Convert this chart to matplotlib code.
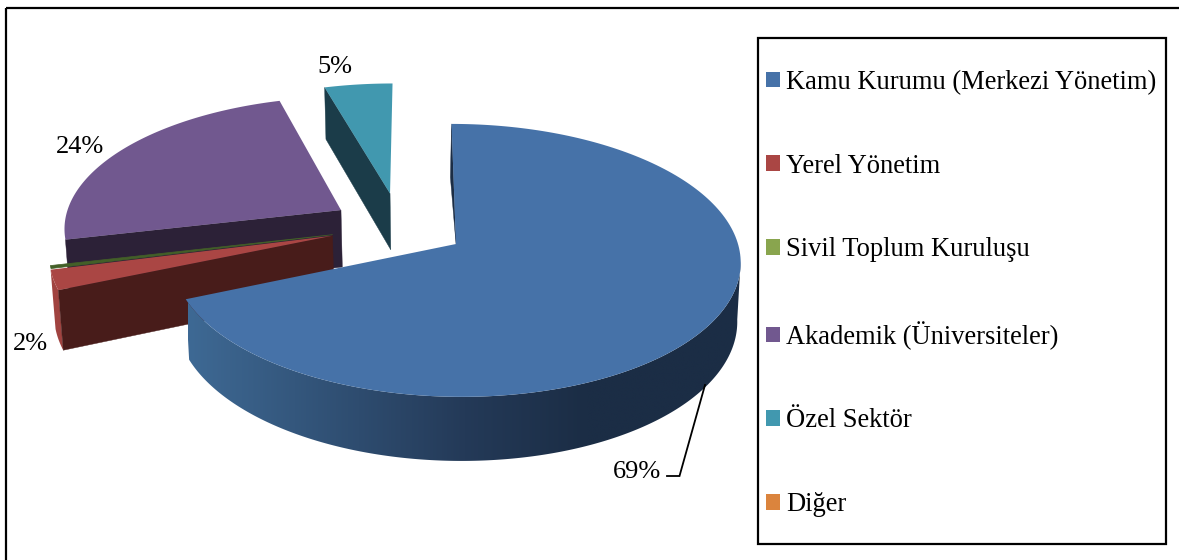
import numpy as np
import matplotlib
matplotlib.use("Agg")
import matplotlib.pyplot as plt
from matplotlib.patches import Patch, Polygon, Rectangle
from matplotlib.colors import LinearSegmentedColormap

# ---- data ----
categories = ["Kamu Kurumu (Merkezi Yönetim)", "Yerel Yönetim", "Sivil Toplum Kuruluşu",
              "Akademik (Üniversiteler)", "Özel Sektör", "Diğer"]
values = [68.6, 2.4, 0.35, 24.14, 4.51, 0.0]
colors = ["#4672A8", "#AA4644", "#89A54E", "#71588F", "#4198AF", "#DB843D"]

# ---- style: perspective camera and slice explosion ----
plt.rcParams["font.family"] = ["Liberation Serif", "DejaVu Serif"]
FONT = 19
LEGEND_FONT = 19.1
CX, CY, RX, SX, A, K, M, D = 456, 244, 282, -5, 134.5, 0.12, 0.012, 59
explode_x = [0.0, -0.44, -0.44, -0.416, -0.238, 0.0]
explode_y = [0.0, 0.062, 0.070, 0.260, 0.393, 0.0]
label_pos = {0: (637, 472), 1: (30, 344), 3: (80, 147), 4: (335, 67)}

fig = plt.figure(figsize=(11.79, 5.6), dpi=100)
ax = fig.add_axes([0, 0, 1, 1])
ax.axis("off")


def project(X, Y, Z=0.0):
    den = 1 + K * Y + M * Z
    return CX + (RX * X + SX * Y) / den, CY + (-A * Y + D * Z) / den


total = sum(values)
edges = np.concatenate([[0.0], np.cumsum(values)]) / total * 2 * np.pi


def disc(i, t, Z=0.0):
    return project(explode_x[i] + np.sin(t), explode_y[i] + np.cos(t), Z)


def top_face(i, z=3, color=None, lw=0.0):
    ts = np.linspace(edges[i], edges[i + 1], 200)
    x, y = disc(i, ts)
    ax_, ay_ = project(explode_x[i], explode_y[i])
    pts = np.column_stack([np.r_[ax_, x], np.r_[ay_, y]])
    c = color or colors[i]
    ax.add_patch(Polygon(pts, closed=True, fc=c, ec=c, lw=lw, zorder=z))


def wall(i, color, z=2):
    ax_t = project(explode_x[i], explode_y[i])
    ax_b = project(explode_x[i], explode_y[i], 1.0)
    c_t = disc(i, edges[i])
    c_b = disc(i, edges[i], 1.0)
    ax.add_patch(Polygon([ax_t, c_t, c_b, ax_b], closed=True, fc=color, ec=color, lw=0.3, zorder=z))


# Özel Sektör
wall(4, "#1B3C49", 2)
top_face(4, 3)
# Akademik
wall(3, "#2C2137", 4)
top_face(3, 5)
# Sivil Toplum (thin sliver)
top_face(2, 7, "#435F28", lw=0.5)
# Yerel Yönetim
ts = np.linspace(edges[1], edges[2], 30)
xt, yt = disc(1, ts)
xb, yb = disc(1, ts, 1.0)
ax.add_patch(Polygon(np.column_stack([np.r_[xt, xb[::-1]], np.r_[yt, yb[::-1]]]),
                     closed=True, fc="#A04340", ec="none", zorder=6))
wall(1, "#481C1A", 7)
top_face(1, 8)

# Kamu Kurumu: outer rim, shaded by horizontal position
shade = LinearSegmentedColormap.from_list(
    "rim", [(0.0, "#3E6994"), (0.5, "#243A58"), (0.72, "#1B2D45"), (1.0, "#1B2D45")])
ts = np.linspace(np.radians(97), edges[1], 361)
xt, yt = disc(0, ts)
xb, yb = disc(0, ts, 1.0)
rim = Polygon(np.column_stack([np.r_[xt, xb[::-1]], np.r_[yt, yb[::-1]]]), closed=True,
              transform=ax.transData, fc="none", ec="none")
ax.add_patch(rim)
img = ax.imshow(np.linspace(0, 1, 256)[None, :], cmap=shade, vmin=0, vmax=1, aspect="auto",
                extent=(188, 742, 480, 240), interpolation="bilinear", zorder=9)
img.set_clip_path(rim)
ax.set_xlim(0, 1179)
ax.set_ylim(560, 0)

# thin visible inner wall at the start edge of the big slice
s_t = disc(0, edges[0])
s_b = disc(0, edges[0], 1.0)
apex = project(0, 0)
ax.add_patch(Polygon([apex, s_t, (s_b[0] - 1.2, s_b[1])], closed=True, fc="#1B2D45", ec="#1B2D45",
                     lw=0.3, zorder=9))
top_face(0, 10)

# percentage labels
for i, (lx, ly) in label_pos.items():
    ax.text(lx, ly, f"{round(values[i])}%", fontsize=FONT, ha="center", va="center",
            color="black", zorder=12)
# leader line of the big slice
ax.plot([705, 679.5, 667], [385, 476, 476], color="black", lw=1.3, zorder=11,
        solid_joinstyle="miter")

# outer frame (its right and bottom edges fall off the picture)
ax.add_patch(Rectangle((5.5, 8), 1300, 700, fc="none", ec="black", lw=1.6, zorder=1))
# legend frame
ax.add_patch(Rectangle((757.5, 38), 408, 506, fc="white", ec="black", lw=1.6, zorder=1))
handles = [Patch(fc=c, ec="none") for c in colors]
ax.legend(handles, categories, loc="upper left", bbox_to_anchor=(766, 70),
          bbox_transform=ax.transData, frameon=False, fontsize=LEGEND_FONT, borderpad=0, borderaxespad=0,
          handlelength=0.53, handleheight=0.53, handletextpad=0.23, labelspacing=2.212,
          labelcolor="black")

fig.savefig("out.png", dpi=100, facecolor="white")
